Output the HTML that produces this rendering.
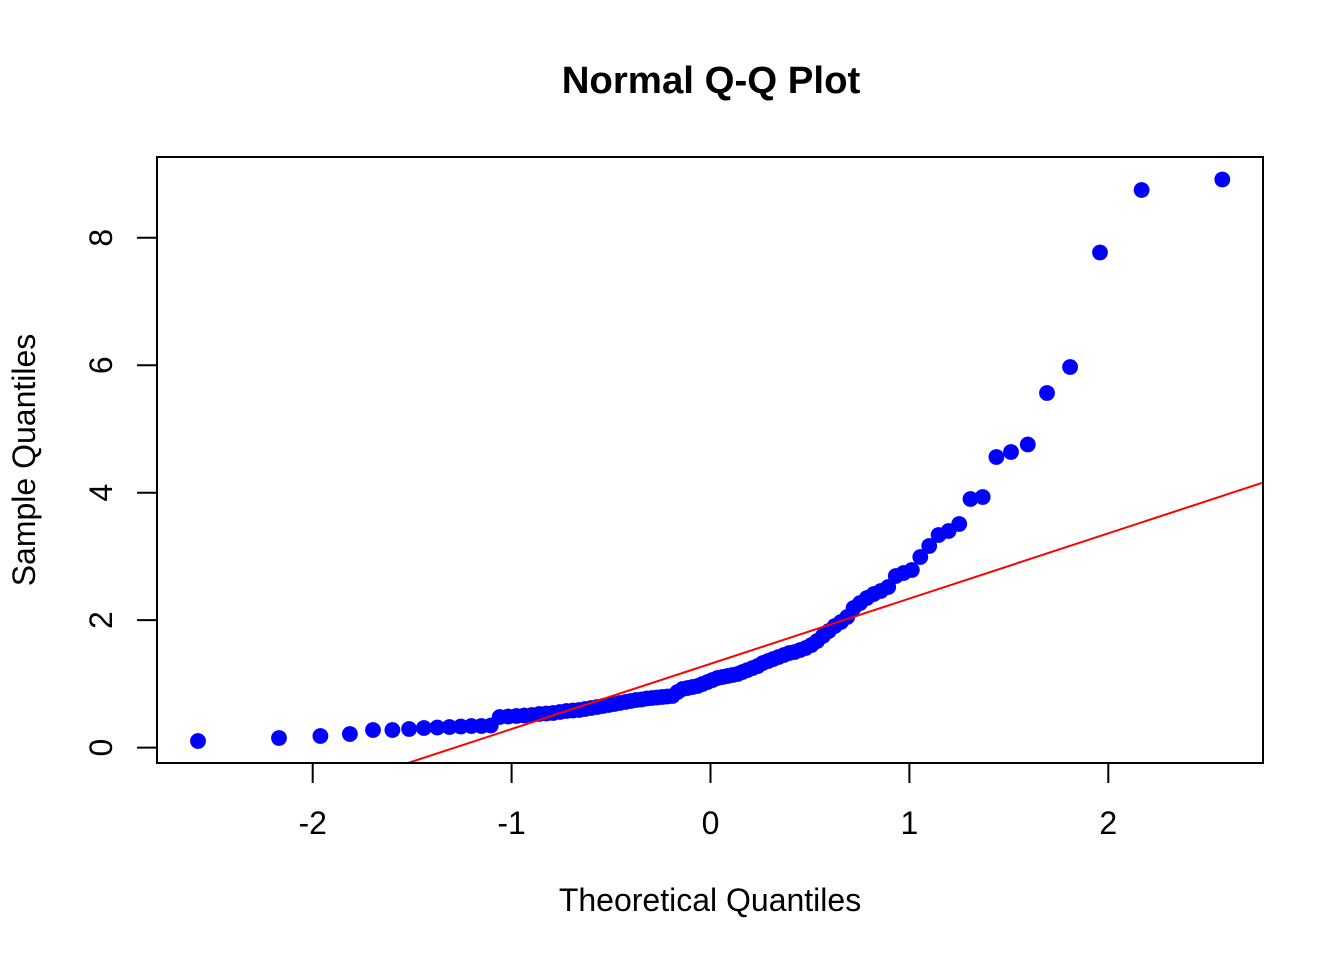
<!DOCTYPE html>
<html>
<head>
<meta charset="utf-8">
<style>
html,body{margin:0;padding:0;background:#fff;}
svg{display:block;}
text{font-family:"Liberation Sans",Arial,sans-serif;fill:#000;}
</style>
</head>
<body>
<svg width="1344" height="960" viewBox="0 0 1344 960" xmlns="http://www.w3.org/2000/svg">
<rect x="0" y="0" width="1344" height="960" fill="#fff"/>
<text x="711" y="93" font-size="38.4" font-weight="bold" text-anchor="middle">Normal Q-Q Plot</text>
<g fill="#0000ff">
<circle cx="198" cy="741" r="7.9"/>
<circle cx="279" cy="738" r="7.9"/>
<circle cx="320.4" cy="736" r="7.9"/>
<circle cx="349.9" cy="734" r="7.9"/>
<circle cx="373" cy="730" r="7.9"/>
<circle cx="392.4" cy="730" r="7.9"/>
<circle cx="409.1" cy="729" r="7.9"/>
<circle cx="423.9" cy="728" r="7.9"/>
<circle cx="437.3" cy="727.5" r="7.9"/>
<circle cx="449.5" cy="727" r="7.9"/>
<circle cx="460.8" cy="726.5" r="7.9"/>
<circle cx="471.4" cy="726" r="7.9"/>
<circle cx="481.4" cy="726" r="7.9"/>
<circle cx="490.8" cy="725.5" r="7.9"/>
<circle cx="499.7" cy="717" r="7.9"/>
<circle cx="508.2" cy="716.5" r="7.9"/>
<circle cx="516.4" cy="716" r="7.9"/>
<circle cx="524.2" cy="715.5" r="7.9"/>
<circle cx="531.8" cy="715" r="7.9"/>
<circle cx="539.2" cy="714" r="7.9"/>
<circle cx="546.2" cy="713.5" r="7.9"/>
<circle cx="553.1" cy="713" r="7.9"/>
<circle cx="559.9" cy="712" r="7.9"/>
<circle cx="566.4" cy="711" r="7.9"/>
<circle cx="572.8" cy="710.5" r="7.9"/>
<circle cx="579.1" cy="710" r="7.9"/>
<circle cx="585.2" cy="709" r="7.9"/>
<circle cx="591.2" cy="708" r="7.9"/>
<circle cx="597.1" cy="707" r="7.9"/>
<circle cx="602.9" cy="706" r="7.9"/>
<circle cx="608.6" cy="705" r="7.9"/>
<circle cx="614.3" cy="704" r="7.9"/>
<circle cx="619.8" cy="703" r="7.9"/>
<circle cx="625.3" cy="702" r="7.9"/>
<circle cx="630.7" cy="701" r="7.9"/>
<circle cx="636.1" cy="700" r="7.9"/>
<circle cx="641.4" cy="699.5" r="7.9"/>
<circle cx="646.7" cy="698.5" r="7.9"/>
<circle cx="651.9" cy="698" r="7.9"/>
<circle cx="657.1" cy="697.5" r="7.9"/>
<circle cx="662.2" cy="697" r="7.9"/>
<circle cx="667.3" cy="696.5" r="7.9"/>
<circle cx="672.4" cy="696" r="7.9"/>
<circle cx="677.5" cy="692" r="7.9"/>
<circle cx="682.5" cy="689" r="7.9"/>
<circle cx="687.5" cy="688" r="7.9"/>
<circle cx="692.5" cy="687" r="7.9"/>
<circle cx="697.5" cy="686" r="7.9"/>
<circle cx="702.5" cy="684" r="7.9"/>
<circle cx="707.5" cy="682" r="7.9"/>
<circle cx="712.5" cy="680" r="7.9"/>
<circle cx="717.5" cy="678" r="7.9"/>
<circle cx="722.5" cy="677" r="7.9"/>
<circle cx="727.5" cy="676" r="7.9"/>
<circle cx="732.5" cy="675" r="7.9"/>
<circle cx="737.5" cy="674" r="7.9"/>
<circle cx="742.5" cy="672" r="7.9"/>
<circle cx="747.6" cy="670" r="7.9"/>
<circle cx="752.7" cy="668" r="7.9"/>
<circle cx="757.8" cy="666" r="7.9"/>
<circle cx="762.9" cy="663" r="7.9"/>
<circle cx="768.1" cy="661" r="7.9"/>
<circle cx="773.3" cy="659" r="7.9"/>
<circle cx="778.6" cy="657" r="7.9"/>
<circle cx="783.9" cy="655" r="7.9"/>
<circle cx="789.3" cy="653" r="7.9"/>
<circle cx="794.7" cy="652" r="7.9"/>
<circle cx="800.2" cy="650" r="7.9"/>
<circle cx="805.7" cy="648" r="7.9"/>
<circle cx="811.4" cy="645" r="7.9"/>
<circle cx="817.1" cy="641" r="7.9"/>
<circle cx="822.9" cy="636" r="7.9"/>
<circle cx="828.8" cy="631" r="7.9"/>
<circle cx="834.8" cy="626" r="7.9"/>
<circle cx="840.9" cy="622" r="7.9"/>
<circle cx="847.2" cy="617" r="7.9"/>
<circle cx="853.6" cy="608" r="7.9"/>
<circle cx="860.1" cy="603" r="7.9"/>
<circle cx="866.9" cy="598" r="7.9"/>
<circle cx="873.8" cy="594" r="7.9"/>
<circle cx="880.8" cy="591" r="7.9"/>
<circle cx="888.2" cy="587" r="7.9"/>
<circle cx="895.8" cy="576" r="7.9"/>
<circle cx="903.6" cy="573" r="7.9"/>
<circle cx="911.8" cy="570" r="7.9"/>
<circle cx="920.3" cy="557" r="7.9"/>
<circle cx="929.2" cy="546" r="7.9"/>
<circle cx="938.6" cy="535" r="7.9"/>
<circle cx="948.6" cy="531" r="7.9"/>
<circle cx="959.2" cy="524" r="7.9"/>
<circle cx="970.5" cy="499" r="7.9"/>
<circle cx="982.7" cy="497" r="7.9"/>
<circle cx="996.4" cy="457" r="7.9"/>
<circle cx="1011" cy="452" r="7.9"/>
<circle cx="1027.8" cy="444.5" r="7.9"/>
<circle cx="1047" cy="393" r="7.9"/>
<circle cx="1070.1" cy="367" r="7.9"/>
<circle cx="1100" cy="252.5" r="7.9"/>
<circle cx="1141.6" cy="190" r="7.9"/>
<circle cx="1222.3" cy="179.5" r="7.9"/>
</g>
<line x1="408" y1="763" x2="1263" y2="482.6" stroke="#ff0000" stroke-width="2"/>
<rect x="157" y="157" width="1106" height="606" fill="none" stroke="#000" stroke-width="2"/>
<g stroke="#000" stroke-width="2">
<line x1="312.7" y1="763" x2="1108.3" y2="763"/>
<line x1="312.7" y1="763" x2="312.7" y2="783"/>
<line x1="511.6" y1="763" x2="511.6" y2="783"/>
<line x1="710.5" y1="763" x2="710.5" y2="783"/>
<line x1="909.4" y1="763" x2="909.4" y2="783"/>
<line x1="1108.3" y1="763" x2="1108.3" y2="783"/>
<line x1="157" y1="747.6" x2="157" y2="237.7"/>
<line x1="137" y1="747.6" x2="157" y2="747.6"/>
<line x1="137" y1="620.1" x2="157" y2="620.1"/>
<line x1="137" y1="492.7" x2="157" y2="492.7"/>
<line x1="137" y1="365.2" x2="157" y2="365.2"/>
<line x1="137" y1="237.7" x2="157" y2="237.7"/>
</g>
<g font-size="32" text-anchor="middle">
<text x="312.7" y="834">-2</text>
<text x="511.6" y="834">-1</text>
<text x="710.5" y="834">0</text>
<text x="909.4" y="834">1</text>
<text x="1108.3" y="834">2</text>
<text transform="translate(112,747.6) rotate(-90)">0</text>
<text transform="translate(112,620.1) rotate(-90)">2</text>
<text transform="translate(112,492.7) rotate(-90)">4</text>
<text transform="translate(112,365.2) rotate(-90)">6</text>
<text transform="translate(112,237.7) rotate(-90)">8</text>
<text x="710" y="911">Theoretical Quantiles</text>
<text transform="translate(35,460) rotate(-90)">Sample Quantiles</text>
</g>
</svg>
</body>
</html>
